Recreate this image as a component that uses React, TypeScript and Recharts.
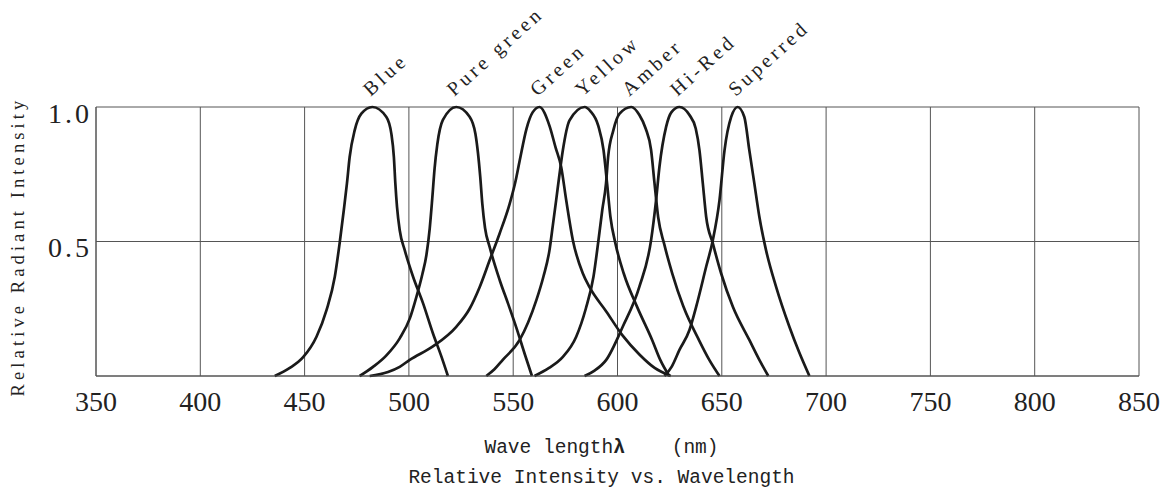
import { LineChart, Line, XAxis, YAxis, CartesianGrid, ReferenceDot } from "recharts"

// wavelength (nm), relative intensity
const wavelengthTicks = [350, 400, 450, 500, 550, 600, 650, 700, 750, 800, 850]
const intensityTicks = [0, 0.5, 1]
const ledNames = ["Blue", "Pure green", "Green", "Yellow", "Amber", "Hi-Red", "Superred"]

const blue = [
  [435.7, 0], [442.9, 0.03], [449.3, 0.07], [455.7, 0.146], [460.5, 0.245], [464.5, 0.37],
  [466.9, 0.5], [468.8, 0.617], [470.3, 0.716], [471.6, 0.814], [474, 0.913], [477.2, 0.975],
  [482.5, 1], [489.2, 0.963], [491.6, 0.9], [492.8, 0.814], [493.5, 0.716], [494.3, 0.629],
  [495.6, 0.542], [498, 0.468], [502, 0.369], [506.8, 0.27], [511.5, 0.159], [515.6, 0.072],
  [518.7, 0],
]
const pureGreen = [
  [476.4, 0], [482.8, 0.034], [489, 0.075], [495.6, 0.14], [500.5, 0.215], [503.6, 0.294],
  [506.5, 0.38], [508.4, 0.45], [510, 0.55], [511.2, 0.66], [512.3, 0.77], [513.6, 0.86],
  [516.3, 0.952], [522.7, 1], [529.1, 0.964], [531.9, 0.9], [533.1, 0.83], [534.2, 0.74],
  [535.2, 0.64], [536.5, 0.55], [538.7, 0.48], [543.5, 0.357], [547.5, 0.27], [551.5, 0.18],
  [555.6, 0.08], [559, 0],
]
const green = [
  [481.2, 0], [490, 0.015], [495.6, 0.034], [500.4, 0.06], [511.5, 0.11], [522.7, 0.183],
  [529.1, 0.25], [533.9, 0.33], [538.7, 0.43], [543.5, 0.53], [548.3, 0.64], [551, 0.72],
  [553.1, 0.8], [556.4, 0.92], [559.3, 0.98], [562.6, 1], [567.4, 0.93], [570.3, 0.85],
  [573, 0.777], [575.4, 0.654], [578.6, 0.505], [583.4, 0.381], [586.6, 0.33], [594.6, 0.24],
  [602.5, 0.15], [610.5, 0.08], [617.8, 0.03], [625.5, 0],
]
const yellow = [
  [537.1, 0], [541, 0.025], [545, 0.06], [553.1, 0.134], [561.1, 0.282], [564.5, 0.37],
  [567.4, 0.468], [569, 0.56], [570.6, 0.654], [572.2, 0.75], [573.8, 0.839], [577, 0.95],
  [584.2, 1], [587, 0.985], [590.8, 0.93], [593.3, 0.84], [595, 0.716], [596.6, 0.592],
  [599, 0.493], [603, 0.381], [609.4, 0.257], [616.6, 0.134], [620.5, 0.06], [624.8, 0],
]
const amber = [
  [560.2, 0], [567.2, 0.03], [573.7, 0.07], [580.2, 0.146], [584.8, 0.25], [588.5, 0.37],
  [590.8, 0.5], [592.7, 0.617], [594.5, 0.716], [595.5, 0.814], [598, 0.913], [601, 0.975],
  [606.6, 1], [610.5, 0.97], [613.5, 0.92], [616.1, 0.84], [617.7, 0.72], [619.5, 0.59],
  [622.4, 0.49], [626.3, 0.38], [631.5, 0.26], [639.3, 0.13], [644, 0.06], [648.9, 0],
]
const hiRed = [
  [584.2, 0], [589, 0.02], [594.6, 0.06], [602.5, 0.183], [610.5, 0.332], [616.1, 0.505],
  [618.5, 0.654], [620.1, 0.777], [623.3, 0.926], [625.8, 0.98], [629.7, 1], [634.5, 0.97],
  [637.5, 0.92], [639.3, 0.839], [640.9, 0.716], [642.5, 0.592], [645.7, 0.493], [649.7, 0.381],
  [655.3, 0.257], [663.2, 0.134], [668, 0.06], [672.3, 0],
]
const superred = [
  [622.5, 0], [626, 0.035], [629.7, 0.097], [634.5, 0.171], [637.7, 0.257], [642.5, 0.406],
  [645.7, 0.505], [648.9, 0.654], [651.3, 0.839], [654.5, 0.963], [657.6, 1], [660.8, 0.963],
  [663.2, 0.839], [665.6, 0.716], [668, 0.592], [671.2, 0.468], [676, 0.332], [682.4, 0.183],
  [687, 0.09], [692, 0],
]

const series = [blue, pureGreen, green, yellow, amber, hiRed, superred]

const serif = '"Liberation Serif", "DejaVu Serif", serif'
const mono = '"Liberation Mono", "DejaVu Sans Mono", monospace'
const ink = "#1a1a1a"
const gridColor = "#555"

const toPoints = (rows: number[][]) => rows.map(([x, y]) => ({ x, y }))
const peakOf = (rows: number[][]) => rows.reduce((a, b) => (b[1] > a[1] ? b : a))

const XTick = (props: any) => {
  const { x, y, payload } = props
  return (
    <text x={x} y={y + 35} textAnchor="middle" fontFamily={serif} fontSize={28} fill="#222">
      {payload.value}
    </text>
  )
}

const YTick = (props: any) => {
  const { x, y, payload } = props
  if (payload.value === 0) return <g />
  return (
    <text
      x={x - 4}
      y={y + 6}
      textAnchor="end"
      dominantBaseline="central"
      fontFamily={serif}
      fontSize={28}
      letterSpacing={3}
      fill="#222"
    >
      {payload.value.toFixed(1)}
    </text>
  )
}

const XLabel = (props: any) => {
  const vb = props.viewBox
  const cx = vb.x + vb.width / 2 - 16
  return (
    <g>
      <text x={cx} y={vb.y + 77} textAnchor="middle" fontFamily={mono} fontSize={19.5} fill="#222" style={{ whiteSpace: "pre" }}>
        Wave length<tspan fontWeight="bold">λ</tspan>{"    (nm)"}
      </text>
      <text x={cx} y={vb.y + 107} textAnchor="middle" fontFamily={mono} fontSize={19.5} fill="#222">
        Relative Intensity vs. Wavelength
      </text>
    </g>
  )
}

const YLabel = (props: any) => {
  const vb = props.viewBox
  const x = vb.x + 18
  const y = vb.y + vb.height / 2 + 5
  return (
    <text
      x={x}
      y={y}
      transform={`rotate(-90, ${x}, ${y})`}
      textAnchor="middle"
      dominantBaseline="central"
      fontFamily={serif}
      fontSize={18.5}
      letterSpacing={4.1}
      fill="#222"
    >
      Relative Radiant Intensity
    </text>
  )
}

const peakLabel = (name: string) => (props: any) => {
  const x = props.cx - 2
  const y = props.cy - 10
  return (
    <text
      x={x}
      y={y}
      transform={`rotate(-42, ${x}, ${y})`}
      fontFamily={serif}
      fontSize={20}
      letterSpacing={3.6}
      fill="#222"
    >
      {name}
    </text>
  )
}

export default function App() {
  return (
    <div style={{ position: "absolute", left: 0, top: 0, width: 1168, height: 493, background: "#fff" }}>
      <LineChart width={1168} height={493} margin={{ top: 107, right: 29, bottom: 77, left: 0 }}>
        <CartesianGrid stroke={gridColor} strokeWidth={1} />
        <XAxis
          dataKey="x"
          type="number"
          domain={[350, 850]}
          ticks={wavelengthTicks}
          interval={0}
          allowDataOverflow
          height={40}
          tickLine={false}
          tickSize={0}
          tickMargin={0}
          axisLine={{ stroke: gridColor }}
          tick={XTick}
          label={XLabel}
        />
        <YAxis
          type="number"
          domain={[0, 1]}
          ticks={intensityTicks}
          interval={0}
          width={96}
          tickLine={false}
          tickSize={0}
          tickMargin={0}
          axisLine={{ stroke: gridColor }}
          tick={YTick}
          label={YLabel}
        />
        {series.map((rows, i) => (
          <Line
            key={ledNames[i]}
            data={toPoints(rows)}
            dataKey="y"
            type="monotone"
            stroke={ink}
            strokeWidth={2.7}
            dot={false}
            activeDot={false}
            isAnimationActive={false}
          />
        ))}
        {series.map((rows, i) => {
          const [px, py] = peakOf(rows)
          return (
            <ReferenceDot
              key={"lbl" + i}
              x={px}
              y={py}
              r={0}
              ifOverflow="visible"
              shape={peakLabel(ledNames[i])}
            />
          )
        })}
      </LineChart>
    </div>
  )
}
